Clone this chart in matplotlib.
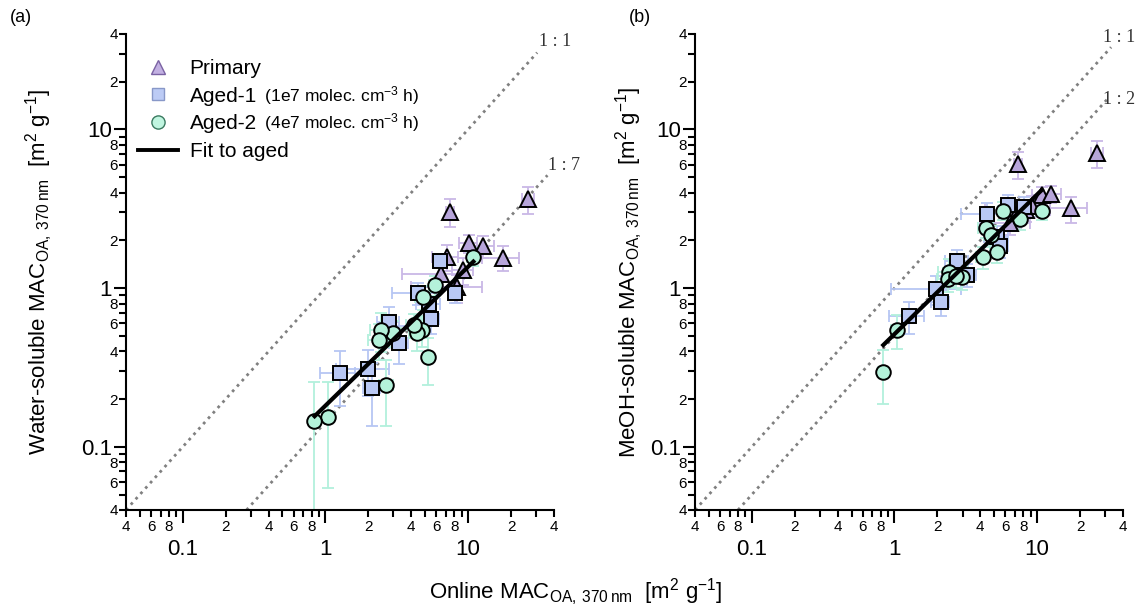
import numpy as np
import matplotlib
matplotlib.use("Agg")
import matplotlib.pyplot as plt
from matplotlib.lines import Line2D
from matplotlib.ticker import FuncFormatter

plt.rcParams["font.family"] = ["Liberation Sans", "DejaVu Sans"]
plt.rcParams["mathtext.default"] = "regular"

# ---- panel (a): water-soluble vs online ----
a_pri_x = [26.4, 7.46, 10.1, 12.8, 17.6, 7.07, 6.44, 9.25, 8.30]
a_pri_y = [3.65, 3.03, 1.92, 1.84, 1.56, 1.58, 1.22, 1.30, 1.01]
a_pri_xe = [2.5, 0.5, 1.5, 2.5, 5.0, 1.5, 3.0, 1.5, 4.3]
a_pri_ye = [0.7, 0.6, 0.25, 0.3, 0.28, 0.3, 0.2, 0.25, 0.2]

a_ag1_x = [6.34, 4.43, 5.34, 5.46, 2.80, 3.29, 1.98, 1.26, 2.13, 8.08]
a_ag1_y = [1.49, 0.93, 0.79, 0.636, 0.615, 0.454, 0.308, 0.29, 0.236, 0.93]
a_ag1_xe = [0.6, 1.5, 1.0, 0.8, 0.5, 0.5, 0.8, 0.35, 0.3, 0.8]
a_ag1_ye = [0.15, 0.15, 0.15, 0.12, 0.15, 0.12, 0.1, 0.11, 0.1, 0.12]

a_ag2_x = [10.9, 5.85, 4.85, 4.77, 4.36, 4.17, 2.99, 2.44, 2.38, 5.26, 2.68, 1.05, 0.835]
a_ag2_y = [1.58, 1.04, 0.883, 0.545, 0.524, 0.586, 0.524, 0.545, 0.471, 0.367, 0.245, 0.155, 0.146]
a_ag2_xe = [1.0, 0.5, 0.6, 0.5, 0.5, 0.5, 0.4, 0.4, 0.4, 0.3, 0.3, 0.1, 0.06]
a_ag2_ye = [0.2, 0.15, 0.15, 0.12, 0.12, 0.1, 0.1, 0.15, 0.12, 0.12, 0.11, 0.1, 0.11]

a_fit_x = [0.84, 10.9]
a_fit_y = [0.156, 1.47]

# ---- panel (b): MeOH-soluble vs online ----
b_pri_x = [26.4, 7.38, 10.76, 12.6, 17.4, 7.1, 6.45, 9.2, 8.3]
b_pri_y = [7.08, 6.06, 3.86, 3.92, 3.18, 2.9, 2.56, 3.3, 3.1]
b_pri_xe = [2.5, 0.5, 1.5, 2.0, 5.0, 1.5, 2.5, 1.5, 4.0]
b_pri_ye = [1.4, 1.2, 0.5, 0.5, 0.6, 0.5, 0.4, 0.5, 0.5]

b_ag1_x = [6.21, 4.43, 8.1, 5.26, 5.49, 2.76, 3.21, 1.95, 2.11, 1.26]
b_ag1_y = [3.34, 2.93, 3.25, 2.11, 1.84, 1.49, 1.21, 0.988, 0.82, 0.667]
b_ag1_xe = [0.6, 1.5, 0.8, 1.0, 0.8, 0.5, 0.5, 1.0, 0.3, 0.35]
b_ag1_ye = [0.5, 0.5, 0.5, 0.35, 0.3, 0.25, 0.2, 0.2, 0.15, 0.15]

b_ag2_x = [10.76, 5.79, 7.58, 4.38, 4.72, 5.2, 4.15, 2.42, 2.38, 2.96, 2.68, 1.05, 0.826]
b_ag2_y = [3.08, 3.08, 2.72, 2.38, 2.16, 1.70, 1.58, 1.27, 1.14, 1.18, 1.2, 0.545, 0.295]
b_ag2_xe = [1.0, 0.5, 0.6, 0.5, 0.5, 0.5, 0.4, 0.4, 0.4, 0.4, 0.3, 0.1, 0.06]
b_ag2_ye = [0.4, 0.4, 0.4, 0.3, 0.3, 0.25, 0.25, 0.25, 0.2, 0.2, 0.2, 0.13, 0.11]

b_fit_x = [0.835, 10.76]
b_fit_y = [0.438, 4.15]

# reference lines (ratio, x range, label position)
a_ratios = [1, 7]
a_ratio_x = [[0.04, 30.5], [0.28, 36]]
a_ratio_lbl = [(41, 36), (47, 5.9)]
b_ratios = [1, 2]
b_ratio_x = [[0.04, 33], [0.08, 32]]
b_ratio_lbl = [(37.5, 38), (37.5, 15.5)]

major_ticks = [0.1, 1, 10]
major_labels = ["0.1", "1", "10"]
minor_ticks = [0.04, 0.05, 0.06, 0.07, 0.08, 0.09,
               0.2, 0.3, 0.4, 0.5, 0.6, 0.7, 0.8, 0.9,
               2, 3, 4, 5, 6, 7, 8, 9, 20, 30, 40]

pri_face, pri_err = "#b7a5da", "#c9b8e6"
ag1_face, ag1_err = "#b9c8f4", "#b6c6f3"
ag2_face, ag2_err = "#b4f2da", "#b2f0dc"


def minor_fmt(v, pos):
    d = int(round(v / 10 ** np.floor(np.log10(v))))
    return str(d) if d in (2, 4, 6, 8) else ""


def setup_axis(ax):
    ax.set_xscale("log")
    ax.set_yscale("log")
    ax.set_xlim(0.04, 40)
    ax.set_ylim(0.04, 40)
    for s in ["top", "right"]:
        ax.spines[s].set_visible(False)
    for s in ["left", "bottom"]:
        ax.spines[s].set_linewidth(1.5)
    for axis in (ax.xaxis, ax.yaxis):
        axis.set_ticks(major_ticks, major_labels)
        axis.set_ticks(minor_ticks, minor=True)
        axis.set_minor_formatter(FuncFormatter(minor_fmt))
    ax.tick_params(which="major", direction="out", length=9, width=1.5, labelsize=16)
    ax.tick_params(which="minor", direction="out", length=5, width=1.5, labelsize=11)
    ax.tick_params(axis="x", which="major", pad=12)
    ax.tick_params(axis="x", which="minor", pad=2)
    ax.tick_params(axis="y", which="major", pad=1)
    ax.tick_params(axis="y", which="minor", pad=1)


def draw_panel(ax, groups, fit_x, fit_y, ratios, ratio_x, ratio_lbl):
    for r, xs, (lx, ly) in zip(ratios, ratio_x, ratio_lbl):
        xs = np.array(xs)
        ax.plot(xs, xs / r, color="#808080", linestyle=(0, (1, 1.6)), linewidth=2, zorder=1)
        ax.text(lx, ly, f"1 : {r}", fontsize=13, family="Liberation Serif",
                color="#333333", ha="center", va="center", clip_on=False)
    for x, y, xe, ye, mk, ms, face, ecol in groups:
        ax.errorbar(x, y, xerr=xe, yerr=ye, fmt="none", ecolor=ecol,
                    elinewidth=1.3, capsize=4, capthick=1.3, zorder=2)
    for x, y, xe, ye, mk, ms, face, ecol in groups:
        ax.plot(x, y, linestyle="none", marker=mk, markersize=ms,
                markerfacecolor=face, markeredgecolor="black",
                markeredgewidth=1.4, zorder=3)
    ax.plot(fit_x, fit_y, color="black", linewidth=3, zorder=4)


fig = plt.figure(figsize=(11.37, 6.08), dpi=100)
ax1 = fig.add_axes([0.1108, 0.1612, 0.3764, 0.783])
ax2 = fig.add_axes([0.6113, 0.1612, 0.3764, 0.783])
setup_axis(ax1)
setup_axis(ax2)

groups_a = [
    (a_pri_x, a_pri_y, a_pri_xe, a_pri_ye, "^", 12, pri_face, pri_err),
    (a_ag1_x, a_ag1_y, a_ag1_xe, a_ag1_ye, "s", 10, ag1_face, ag1_err),
    (a_ag2_x, a_ag2_y, a_ag2_xe, a_ag2_ye, "o", 10.5, ag2_face, ag2_err),
]
groups_b = [
    (b_pri_x, b_pri_y, b_pri_xe, b_pri_ye, "^", 12, pri_face, pri_err),
    (b_ag1_x, b_ag1_y, b_ag1_xe, b_ag1_ye, "s", 10, ag1_face, ag1_err),
    (b_ag2_x, b_ag2_y, b_ag2_xe, b_ag2_ye, "o", 10.5, ag2_face, ag2_err),
]
draw_panel(ax1, groups_a, a_fit_x, a_fit_y, a_ratios, a_ratio_x, a_ratio_lbl)
draw_panel(ax2, groups_b, b_fit_x, b_fit_y, b_ratios, b_ratio_x, b_ratio_lbl)

# legend
handles = [
    Line2D([], [], linestyle="none", marker="^", markersize=10,
           markerfacecolor="#c2b0e2", markeredgecolor="#7a62a3", markeredgewidth=1),
    Line2D([], [], linestyle="none", marker="s", markersize=9,
           markerfacecolor="#bccbf5", markeredgecolor="#8898c8", markeredgewidth=1),
    Line2D([], [], linestyle="none", marker="o", markersize=9.5,
           markerfacecolor="#c0f5e0", markeredgecolor="#3a7a60", markeredgewidth=1),
    Line2D([], [], color="black", linewidth=2.8),
]
labels = ["Primary", "Aged-1", "Aged-2", "Fit to aged"]
leg = ax1.legend(handles, labels, loc="upper left", bbox_to_anchor=(0.0, 0.974),
                 frameon=False, fontsize=15, handlelength=1.9, handletextpad=0.55,
                 labelspacing=0.42, borderaxespad=0.2)

ylab_unit = r"  [m$^{2}$ g$^{-1}$]"
ax1.set_ylabel(r"Water-soluble MAC$_{OA,\,370\,nm}$" + ylab_unit, fontsize=16)
ax1.yaxis.set_label_coords(-0.165, 0.5)
ax2.set_ylabel(r"MeOH-soluble MAC$_{OA,\,370\,nm}$" + ylab_unit, fontsize=16)
ax2.yaxis.set_label_coords(-0.118, 0.5)
fig.text(0.506, 0.026, r"Online MAC$_{OA,\,370\,nm}$" + ylab_unit, fontsize=16,
         ha="center", va="center")

fig.text(0.009, 0.972, "(a)", fontsize=13, va="center")
fig.text(0.553, 0.972, "(b)", fontsize=13, va="center")

# oxidant exposure notes next to the aged legend entries, on the same baseline
fig.canvas.draw()
for i, txt in [(1, " (1e7 molec. cm$^{-3}$ h)"), (2, " (4e7 molec. cm$^{-3}$ h)")]:
    bb = leg.get_texts()[i].get_window_extent()
    fx, fy = fig.transFigure.inverted().transform((bb.x1 + 3, bb.y0 + 4.5))
    fig.text(fx, fy, txt, fontsize=12.5, ha="left", va="baseline")

fig.savefig("out.png", dpi=100)
